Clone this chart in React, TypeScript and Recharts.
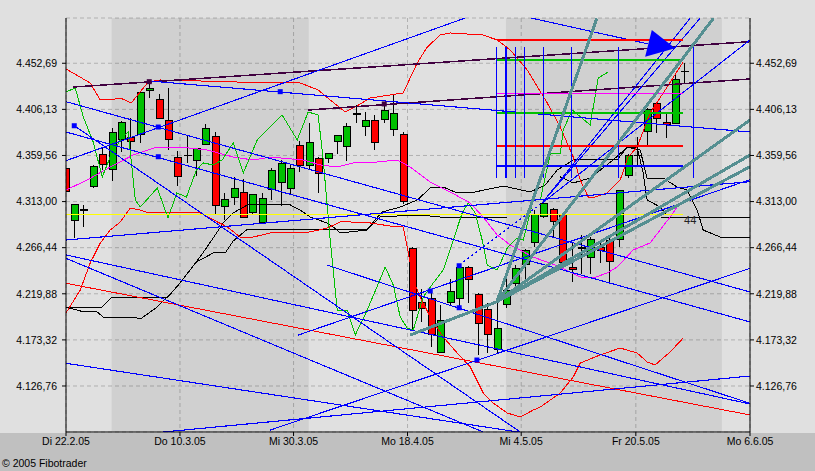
import React from "react";
import { ComposedChart, XAxis, YAxis, CartesianGrid, Bar, Line, Scatter, ReferenceArea } from "recharts";

type Pt = [number, number];

// x = trading-day index, candle 0 sits just left of the Di 22.2.05 axis
const xDomain: Pt = [0.14, 73];
const yDomain: Pt = [4080.3, 4498.4];
const xTicks = [0.14, 12.28, 24.38, 36.52, 48.63, 60.84, 73];
const xLabels = ["Di 22.2.05", "Do 10.3.05", "Mi 30.3.05", "Mo 18.4.05", "Mi 4.5.05", "Fr 20.5.05", "Mo 6.6.05"];
const yTicks = [4126.76, 4173.32, 4219.88, 4266.44, 4313.0, 4359.56, 4406.13, 4452.69];
const yLabels = ["4.126,76", "4.173,32", "4.219,88", "4.266,44", "4.313,00", "4.359,56", "4.406,13", "4.452,69"];

// OHLC, one entry per trading day
const opens = [4346.6, 4294.1, 4304.5, 4328.1, 4360.1, 4345.6, 4375.9, 4378.0, 4381.0, 4425.4, 4416.3, 4394.7, 4357.8, 4359.4, 4354.3, 4370.9, 4379.0, 4308.3, 4317.4, 4322.4, 4302.2, 4292.1, 4325.4, 4332.5, 4326.4, 4369.2, 4349.0, 4356.1, 4356.3, 4373.5, 4368.5, 4401.2, 4388.7, 4394.7, 4396.1, 4386.0, 4381.0, 4265.8, 4211.3, 4215.4, 4160.8, 4211.3, 4215.4, 4246.7, 4219.4, 4204.2, 4163.8, 4209.3, 4230.5, 4249.9, 4271.9, 4297.8, 4305.2, 4299.5, 4246.7, 4266.1, 4256.8, 4267.1, 4274.2, 4275.2, 4338.9, 4359.4, 4383.6, 4412.3, 4393.1, 4392.1, 4444.2];
const highs = [4349.0, 4311.0, 4309.6, 4349.5, 4367.9, 4387.0, 4394.0, 4397.8, 4424.0, 4435.5, 4421.7, 4427.4, 4364.1, 4379.3, 4367.5, 4391.4, 4383.3, 4321.4, 4338.2, 4335.5, 4321.0, 4321.4, 4346.6, 4355.0, 4350.0, 4374.2, 4392.1, 4358.0, 4362.5, 4380.0, 4392.7, 4410.6, 4403.8, 4400.5, 4412.3, 4421.7, 4383.0, 4267.0, 4224.4, 4223.7, 4208.6, 4234.5, 4249.0, 4248.0, 4221.0, 4210.3, 4213.7, 4235.5, 4249.0, 4265.0, 4304.5, 4314.6, 4307.0, 4301.0, 4271.9, 4279.3, 4277.0, 4274.2, 4276.0, 4325.0, 4361.0, 4378.0, 4408.0, 4414.0, 4402.2, 4440.9, 4452.7];
const lows = [4320.0, 4276.3, 4287.7, 4326.4, 4344.9, 4334.1, 4363.4, 4363.4, 4372.5, 4417.3, 4396.0, 4365.1, 4329.1, 4352.3, 4338.9, 4370.0, 4300.5, 4294.4, 4309.6, 4296.0, 4299.5, 4291.1, 4314.6, 4308.6, 4319.7, 4343.2, 4344.9, 4322.0, 4352.3, 4361.1, 4354.3, 4392.7, 4379.6, 4365.1, 4392.1, 4379.3, 4310.6, 4184.3, 4191.7, 4166.5, 4159.8, 4208.6, 4206.9, 4210.3, 4158.1, 4159.8, 4159.8, 4205.2, 4223.7, 4227.1, 4267.5, 4296.0, 4277.6, 4250.0, 4232.1, 4239.7, 4239.7, 4250.7, 4232.1, 4267.5, 4337.0, 4348.3, 4370.2, 4382.0, 4376.9, 4391.0, 4432.5];
const closes = [4323.0, 4310.3, 4304.5, 4348.3, 4350.7, 4383.0, 4393.1, 4373.9, 4423.4, 4427.4, 4397.1, 4375.9, 4338.6, 4359.4, 4366.8, 4387.0, 4309.3, 4315.3, 4326.4, 4297.2, 4320.4, 4316.3, 4344.2, 4351.7, 4346.6, 4349.7, 4372.9, 4341.3, 4361.8, 4379.3, 4388.7, 4401.2, 4394.7, 4372.9, 4404.8, 4401.5, 4312.9, 4203.5, 4205.2, 4179.0, 4192.7, 4222.0, 4246.7, 4234.5, 4190.1, 4179.0, 4185.0, 4223.7, 4245.6, 4264.1, 4299.5, 4310.6, 4292.7, 4251.7, 4244.6, 4266.1, 4274.9, 4263.4, 4252.7, 4324.0, 4359.4, 4359.4, 4406.2, 4397.1, 4390.4, 4436.5, 4444.2];

// indicator curves [day, price]
const upperBand: Pt[] = [[0.14, 4446.9], [2.72, 4432.8], [3.79, 4415.6], [4.85, 4415.6], [5.92, 4417.6], [7.09, 4412.6], [8.9, 4433.8], [10.18, 4435.8], [14.44, 4434.8], [21.9, 4432.8], [25.09, 4432.8], [27.0, 4425.7], [28.28, 4415.6], [29.88, 4403.5], [30.95, 4408.5], [32.55, 4417.6], [34.68, 4420.7], [36.06, 4422.7], [37.55, 4453.0], [38.62, 4469.1], [40.0, 4481.2], [41.07, 4483.3], [44.58, 4481.2], [46.07, 4476.2], [47.46, 4466.1], [49.27, 4445.9], [51.4, 4412.6], [52.79, 4388.3], [54.17, 4358.0], [54.92, 4334.8], [55.77, 4317.6], [56.51, 4317.6], [57.79, 4321.7], [59.17, 4334.8], [60.02, 4358.0], [60.98, 4368.1], [62.36, 4402.5], [64.17, 4428.7], [65.88, 4454.0]];
const lowerBand: Pt[] = [[0.14, 4200.5], [1.66, 4223.7], [2.72, 4251.0], [3.79, 4271.2], [4.85, 4284.3], [5.92, 4292.4], [6.98, 4306.5], [8.05, 4304.5], [8.9, 4301.5], [12.59, 4301.5], [14.44, 4301.5], [17.32, 4287.3], [18.7, 4277.2], [20.08, 4277.2], [21.9, 4281.3], [26.15, 4282.3], [27.96, 4286.3], [29.35, 4292.4], [30.42, 4292.4], [32.55, 4291.4], [34.68, 4288.3], [36.06, 4287.3], [36.49, 4267.1], [37.13, 4233.8], [37.87, 4216.6], [38.94, 4196.4], [40.32, 4176.2], [41.81, 4160.1], [43.2, 4146.0], [44.58, 4119.7], [45.65, 4109.6], [47.14, 4099.5], [48.52, 4095.4], [49.91, 4102.5], [50.66, 4105.5], [52.79, 4119.7], [54.17, 4135.8], [54.92, 4150.0], [57.04, 4158.1], [59.17, 4165.1], [60.98, 4160.1], [62.04, 4151.0], [62.89, 4148.0], [64.49, 4161.1], [65.88, 4175.2]];
const middleBand: Pt[] = [[0.14, 4324.7], [2.41, 4334.8], [4.85, 4347.9], [7.3, 4360.0], [9.86, 4368.1], [12.27, 4368.1], [15.19, 4365.1], [17.95, 4358.0], [20.08, 4355.0], [21.9, 4358.0], [25.41, 4355.0], [27.22, 4350.0], [29.03, 4347.9], [30.74, 4352.0], [33.3, 4353.0], [35.42, 4355.0], [36.81, 4347.9], [38.94, 4332.8], [41.07, 4322.7], [43.2, 4311.6], [44.58, 4297.4], [46.07, 4279.2], [47.46, 4269.2], [49.91, 4257.0], [52.79, 4246.9], [54.92, 4236.9], [56.3, 4235.8], [57.79, 4240.9], [58.85, 4246.9], [60.55, 4264.1], [62.36, 4271.2], [64.49, 4297.4], [65.24, 4307.5]];
const laggingLine: Pt[] = [[0.14, 4423.7], [1.13, 4427.7], [1.98, 4398.4], [3.04, 4373.2], [4.0, 4337.9], [4.85, 4358.0], [5.92, 4375.2], [6.77, 4383.3], [7.52, 4314.6], [8.05, 4307.5], [9.86, 4326.7], [11.0, 4296.4], [11.95, 4321.7], [12.97, 4317.6], [14.03, 4344.9], [14.76, 4352.0], [15.82, 4350.0], [16.78, 4355.0], [17.95, 4372.2], [19.02, 4341.9], [20.51, 4375.2], [21.9, 4388.3], [23.17, 4400.4], [24.77, 4375.2], [25.94, 4403.5], [27.0, 4400.4], [27.54, 4355.0], [28.28, 4274.2], [29.03, 4203.5], [30.1, 4203.5], [30.95, 4178.2], [32.23, 4203.5], [34.14, 4246.9], [35.0, 4228.8], [35.74, 4196.4], [36.49, 4185.3], [37.13, 4183.3], [38.19, 4216.6], [39.26, 4230.8], [40.32, 4243.9], [41.39, 4274.2], [42.34, 4301.5], [42.98, 4311.6], [43.73, 4301.5], [44.47, 4274.2], [45.0, 4249.0], [46.07, 4243.9], [47.14, 4266.1], [48.2, 4276.2], [48.84, 4274.2], [49.91, 4314.6], [50.66, 4314.6], [51.72, 4361.1], [52.79, 4361.1], [53.1, 4385.3], [54.06, 4405.5], [55.98, 4390.4], [56.83, 4437.8], [57.89, 4443.9]];
const cloudA: Pt[] = [[0.14, 4206.5], [4.0, 4206.5], [5.07, 4216.6], [11.0, 4216.6], [12.27, 4230.8], [14.03, 4252.0], [15.82, 4261.1], [17.1, 4261.1], [17.95, 4273.2], [19.45, 4285.0], [32.22, 4285.0], [33.61, 4297.7], [37.87, 4299.4], [40.0, 4297.4], [47.14, 4297.4]];
const cloudB: Pt[] = [[0.14, 4206.5], [1.66, 4202.5], [3.47, 4201.5], [4.11, 4196.4], [7.3, 4196.4], [8.05, 4194.4], [9.86, 4206.5], [11.95, 4226.7], [14.44, 4257.3], [15.82, 4276.2], [16.89, 4291.4], [17.95, 4301.5], [19.45, 4309.6], [24.03, 4309.6], [25.09, 4304.5], [26.15, 4297.4], [27.96, 4291.4], [28.6, 4287.3], [29.35, 4281.3], [32.23, 4284.3], [32.87, 4292.4], [33.82, 4302.5], [35.74, 4307.5], [37.55, 4314.6], [38.94, 4326.7], [40.32, 4327.7], [41.81, 4321.7], [43.2, 4321.7], [46.71, 4328.7], [49.59, 4322.7], [51.19, 4329.8], [52.47, 4344.9], [54.17, 4355.0], [58.85, 4355.0], [59.91, 4368.1], [60.98, 4368.1], [61.62, 4341.9], [62.04, 4314.6], [63.43, 4307.5], [64.17, 4299.4]];
const cloudC: Pt[] = [[52.79, 4337.9], [54.17, 4331.8], [55.98, 4336.8], [58.42, 4355.0], [59.91, 4368.1], [61.3, 4365.1], [62.04, 4336.8], [63.75, 4336.8], [65.24, 4327.7], [66.3, 4324.7], [67.37, 4304.5], [68.01, 4284.3], [69.82, 4277.2], [73, 4276.2]];

// drawn trend lines, each [start, end]
const blueLines: Pt[][] = [
  [[0.14, 4413.9], [73, 4221.7]],
  [[1.02, 4389.6], [48.52, 4080.3]],
  [[0.14, 4383.3], [73, 4191.4]],
  [[0.14, 4354.3], [42.66, 4498.4]],
  [[0.14, 4274.2], [73, 4333.1]],
  [[9.01, 4434.8], [73, 4383.3]],
  [[0.14, 4259.1], [73, 4108.6]],
  [[0.14, 4255.7], [44.58, 4080.3]],
  [[0.14, 4149.7], [48.31, 4080.3]],
  [[10.5, 4080.3], [73, 4136.8]],
  [[21.9, 4082.3], [73, 4245.6]],
  [[24.88, 4178.2], [73, 4335.2]],
  [[27.93, 4248.9], [73, 4109.3]],
  [[49.65, 4498.4], [62.15, 4472.2]],
  [[50.83, 4311.3], [66.62, 4498.1]],
  [[50.83, 4311.3], [67.68, 4498.1]],
  [[50.83, 4311.3], [73, 4476.2]],
];
const dottedLine: Pt[] = [[42.45, 4252.0], [50.83, 4311.3]];
const redLine: Pt[] = [[0.14, 4230.5], [73, 4097.5]];
const purpleLines: Pt[][] = [
  [[0.91, 4428.7], [73, 4474.5]],
  [[25.94, 4405.5], [73, 4436.8]],
];
const yellowLine: Pt[] = [[0.14, 4300.2], [65.91, 4300.2]];
const flatLine: Pt[] = [[63.5, 4296.7], [73, 4296.7]];

// speed fan
const fanLead: Pt = [36.8, 4178.2];
const fanOrigin: Pt = [46.04, 4211.9];
const fanTargets: Pt[] = [[56.69, 4498.1], [69.1, 4498.1], [73, 4395.4], [73, 4360.0], [73, 4348.2]];

// fibonacci box
const boxSpan: Pt = [46.04, 65.91];
const boxLevels = [4476.2, 4456.0, 4422.4, 4402.5, 4369.1, 4348.9];
const fibBase = 46;
const fibSteps = [0, 1, 2, 3, 5, 8, 13, 21];
const fibRange: Pt = [4336.5, 4469.4];

const monthBands: Pt[] = [[5, 26], [47, 70]];
const blueMarks: Pt[] = [[1.02, 4389.6], [9.97, 4388.3], [9.97, 4358.3], [22.96, 4424.0], [38.94, 4222.7], [42.02, 4248.2], [42.02, 4205.8], [43.91, 4153.0]];
const purpleMarks: Pt[] = [[9.01, 4434.1], [34.04, 4411.6]];
const arrowAt: Pt[] = [[63.13, 4471.2]];
const countLabel = [{ x: 66.63, y: 4294.4, text: "44" }];

const candles = opens.map((o, i) => ({ x: i, o, h: highs[i], l: lows[i], c: closes[i] }));

const FONT = "'Liberation Sans', Arial, sans-serif";
const tickStyle = { fontSize: 10.5, fill: "#000", fontFamily: FONT };
const boxColors = ["#ff0000", "#00c000", "#ff00ff", "#00c000", "#ff0000", "#0000ff"];

function Candle(props: any) {
  const { x, y, width, height, payload } = props;
  if (!payload) return null;
  const { o, h, l, c } = payload;
  const top = Math.min(y, y + height);
  const span = Math.abs(height);
  const py = (v: number) => top + ((h - v) / (h - l)) * span;
  const cx = Math.round(x + width / 2) + 0.5;
  const yo = py(o);
  const yc = py(c);
  const bTop = Math.min(yo, yc);
  const bH = Math.abs(yc - yo);
  return (
    <g shapeRendering="crispEdges">
      <line x1={cx} x2={cx} y1={top} y2={top + span} stroke="#000" />
      {bH < 1.5 ? (
        <line x1={cx - 4} x2={cx + 4} y1={yo} y2={yo} stroke="#000" strokeWidth={1.5} />
      ) : (
        <rect x={cx - 3.5} y={bTop} width={7} height={bH} fill={c >= o ? "#00c000" : "#ff0000"} stroke="#000" />
      )}
    </g>
  );
}

const series = (key: string, pts: Pt[], stroke: string, width = 1, dash?: string) => (
  <Line
    key={key}
    data={pts.map(([x, y]) => ({ x, y }))}
    dataKey="y"
    type="linear"
    stroke={stroke}
    strokeWidth={width}
    strokeDasharray={dash}
    shapeRendering="crispEdges"
    dot={false}
    activeDot={false}
    isAnimationActive={false}
  />
);

const fmtX = (v: number) => xLabels[xTicks.indexOf(v)] ?? "";
const fmtY = (v: number) => {
  let best = 0;
  yTicks.forEach((t, i) => {
    if (Math.abs(t - v) < Math.abs(yTicks[best] - v)) best = i;
  });
  return yLabels[best];
};

export default function App() {
  return (
    <div style={{ position: "absolute", left: 0, top: 0, width: 815, height: 471, background: "#e0e0e0", overflow: "hidden" }}>
      <div style={{ position: "absolute", left: 0, top: 433, width: 815, height: 38, background: "#c0c0c0" }} />
      <div style={{ position: "absolute", left: 0, top: 0 }}>
        <ComposedChart width={815} height={471} data={candles} margin={{ top: 18, right: 0, bottom: 0, left: 0 }}>
          {monthBands.map(([a, b]) => (
            <ReferenceArea key={`band-${a}`} x1={a} x2={b} fill="#000" fillOpacity={0.07} stroke="none" ifOverflow="hidden" />
          ))}
          <CartesianGrid stroke="#b0b0b0" strokeDasharray="4 3" />
          <XAxis
            dataKey="x"
            type="number"
            domain={xDomain}
            ticks={xTicks}
            interval={0}
            allowDataOverflow
            height={39}
            tickSize={4}
            tickMargin={2}
            tick={tickStyle}
            tickFormatter={fmtX}
            axisLine={{ stroke: "#000" }}
            tickLine={{ stroke: "#000" }}
          />
          <YAxis
            orientation="left"
            width={66}
            domain={yDomain}
            ticks={yTicks}
            interval={0}
            allowDataOverflow
            tickSize={4}
            tickMargin={5}
            tick={tickStyle}
            tickFormatter={fmtY}
            axisLine={{ stroke: "#000" }}
            tickLine={{ stroke: "#000" }}
          />
          <YAxis
            yAxisId="r"
            orientation="right"
            width={65}
            domain={yDomain}
            ticks={yTicks}
            interval={0}
            allowDataOverflow
            tickSize={4}
            tickMargin={2}
            tick={tickStyle}
            tickFormatter={fmtY}
            axisLine={{ stroke: "#000" }}
            tickLine={{ stroke: "#000" }}
          />

          {series("cloudA", cloudA, "#000")}
          {series("cloudB", cloudB, "#000")}
          {series("cloudC", cloudC, "#000")}
          {series("flat", flatLine, "#000")}
          {series("upper", upperBand, "#ff0000")}
          {series("lower", lowerBand, "#ff0000")}
          {series("middle", middleBand, "#ff00ff")}
          {series("lagging", laggingLine, "#00c000")}

          <Bar dataKey={(d: any) => [d.l, d.h]} barSize={7} shape={<Candle />} isAnimationActive={false} />

          {series("yellow", yellowLine, "#ffff00", 1.5)}
          {series("red", redLine, "#ff0000")}
          {purpleLines.map((p, i) => series(`purple-${i}`, p, "#400040", 1.5))}
          {blueLines.map((p, i) => series(`blue-${i}`, p, "#0000ff", 1.1))}
          {series("dotted", dottedLine, "#0000ff", 1.2, "2 3")}
          {boxLevels.map((v, i) => series(`box-${i}`, [[boxSpan[0], v], [boxSpan[1], v]], boxColors[i], 1.5))}
          {fibSteps.map((s) => series(`fib-${s}`, [[fibBase + s, fibRange[0]], [fibBase + s, fibRange[1]]], "#0000ff", 1.6))}
          {series("fan-lead", [fanLead, fanOrigin], "#558f91", 3)}
          {fanTargets.map((t, i) => series(`fan-${i}`, [fanOrigin, t], "#558f91", 3))}

          <Scatter
            data={blueMarks.map(([x, y]) => ({ x, y }))}
            dataKey="y"
            isAnimationActive={false}
            shape={(p: any) => <rect x={p.cx - 2.5} y={p.cy - 2.5} width={5} height={5} fill="#0000ff" />}
          />
          <Scatter
            data={purpleMarks.map(([x, y]) => ({ x, y }))}
            dataKey="y"
            isAnimationActive={false}
            shape={(p: any) => <rect x={p.cx - 2.5} y={p.cy - 2.5} width={5} height={5} fill="#400040" />}
          />
          <Scatter
            data={arrowAt.map(([x, y]) => ({ x, y }))}
            dataKey="y"
            isAnimationActive={false}
            shape={(p: any) => (
              <polygon
                points={`${p.cx - 12.2},${p.cy + 11.7} ${p.cx - 5.5},${p.cy - 15} ${p.cx + 17.8},${p.cy + 3.3}`}
                fill="#0000ff"
              />
            )}
          />
          <Scatter
            data={countLabel}
            dataKey="y"
            isAnimationActive={false}
            shape={(p: any) => (
              <text x={p.cx} y={p.cy} textAnchor="middle" dominantBaseline="central" fontSize={11} fontFamily={FONT} fill="#222">
                {p.payload.text}
              </text>
            )}
          />
        </ComposedChart>
      </div>
      <div style={{ position: "absolute", left: 2, top: 457, fontSize: 10.5, fontFamily: FONT, color: "#000", whiteSpace: "nowrap" }}>
        © 2005 Fibotrader
      </div>
    </div>
  );
}
